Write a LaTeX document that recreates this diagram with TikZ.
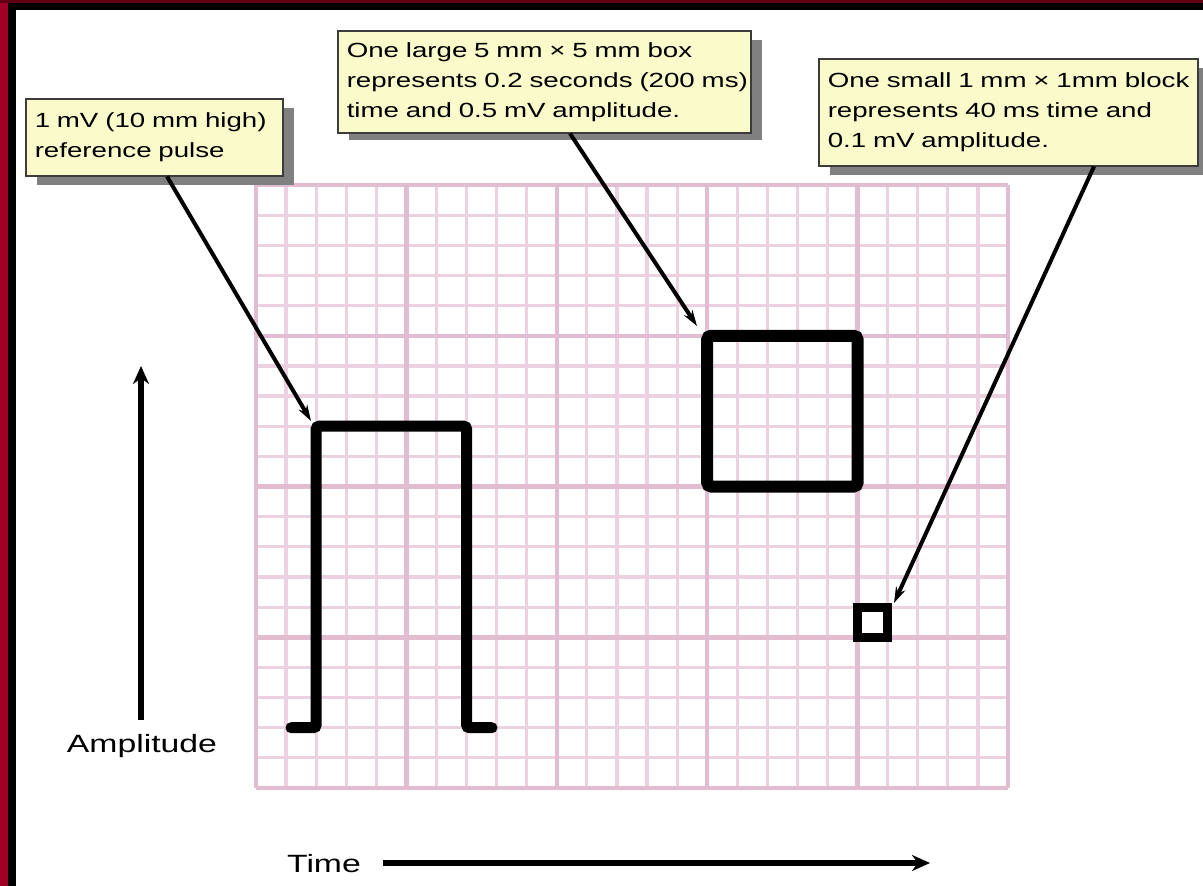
\documentclass[tikz,border=0pt]{standalone}
\usepackage{fontspec}
\setmainfont{Liberation Sans}[FakeStretch=1.35]
\usetikzlibrary{arrows.meta}
\definecolor{gridthin}{RGB}{236,210,225}
\definecolor{gridthick}{RGB}{226,188,208}
\definecolor{calloutfill}{RGB}{250,250,202}
\definecolor{calloutdraw}{RGB}{60,60,60}
\definecolor{shadowgray}{RGB}{128,128,128}
\definecolor{frameRed}{RGB}{160,0,36}
\definecolor{frameMaroon}{RGB}{98,0,22}
\tikzset{
  callout/.style={draw=calloutdraw, line width=1.5pt, fill=calloutfill, anchor=north west,
    inner xsep=9pt, inner ysep=0pt, align=left, font=\fontsize{20.5}{30}\selectfont},
  shadowbox/.style={fill=shadowgray, draw=none},
  leader/.style={line width=4pt, -{Stealth[length=16pt,width=10pt]}},
  axisarrow/.style={line width=5.5pt, -{Stealth[length=18pt,width=16pt]}},
  axislabel/.style={font=\fontsize{25}{30}\selectfont, inner sep=0pt},
  trace/.style={line width=11pt, rounded corners=3pt, line cap=round},
}
\begin{document}
\begin{tikzpicture}[x=1pt,y=-1pt]
\useasboundingbox (0,0) rectangle (1203,886);
\fill[white] (0,0) rectangle (1203,886);
% frame
\fill[black] (0,0) rectangle (16,886);
\fill[black] (0,0) rectangle (1203,10);
\fill[frameRed] (0,0) rectangle (8,886);
\fill[frameMaroon] (0,0) rectangle (1203,3);
% grid
\foreach \i in {0,...,25} {
  \pgfmathsetmacro{\xx}{256+\i*30.08}
  \draw[gridthin, line width=3.2pt] (\xx,185) -- (\xx,788);
}
\foreach \j in {0,...,20} {
  \pgfmathsetmacro{\yy}{185+\j*30.15}
  \draw[gridthin, line width=3.2pt] (256,\yy) -- (1008,\yy);
}
\foreach \i in {0,...,5} {
  \pgfmathsetmacro{\xx}{256+\i*150.4}
  \draw[gridthick, line width=4.5pt] (\xx,185) -- (\xx,788);
}
\foreach \j in {0,...,4} {
  \pgfmathsetmacro{\yy}{185+\j*150.75}
  \draw[gridthick, line width=4.5pt] (256,\yy) -- (1008,\yy);
}
% reference pulse
\draw[trace] (291,727.7) -- (316.2,727.7) -- (316.2,426.2) -- (466.6,426.2) -- (466.6,727.7) -- (492,727.7);
% large box
\draw[line width=12pt, rounded corners=4pt] (707.2,335.75) rectangle (857.6,486.5);
% small box
\draw[line width=9pt] (857.6,607) rectangle (887.7,637.3);
% callout shadows
\fill[shadowgray] (37,108) rectangle (294,185);
\fill[shadowgray] (349,40) rectangle (762,140);
\fill[shadowgray] (830,68) rectangle (1209,175);
% callouts
\node[callout, minimum width=257pt, minimum height=77pt, text width=239pt] (b1) at (25,98)
  {\mbox{1 mV (10 mm high)}\\\mbox{reference pulse}};
\node[callout, minimum width=413pt, minimum height=102pt, text width=395pt] (b2) at (337,30)
  {\mbox{One large 5 mm × 5 mm box}\\\mbox{represents 0.2 seconds (200 ms)}\\\mbox{time and 0.5 mV amplitude.}};
\node[callout, minimum width=379pt, minimum height=107pt, text width=361pt] (b3) at (818,58)
  {\mbox{One small 1 mm × 1mm block}\\\mbox{represents 40 ms time and}\\\mbox{0.1 mV amplitude.}};
% leader tips
\coordinate (tip1) at (311,421);
\coordinate (tip2) at (697,326);
\coordinate (tip3) at (894,603);
\draw[leader] ([xshift=142pt]b1.south west) -- (tip1);
\draw[leader] ([xshift=233pt]b2.south west) -- (tip2);
\draw[leader] ([xshift=276pt]b3.south west) -- (tip3);
% axes
\node[axislabel] (amp) at (142,746) {Amplitude};
\coordinate (ampTop) at (141,366);
\draw[axisarrow] ([yshift=14pt]amp.north -| ampTop) -- (ampTop);
\node[axislabel] (time) at (324,864) {Time};
\coordinate (timeEnd) at (930,863);
\draw[axisarrow] ([xshift=22pt]time.east |- timeEnd) -- (timeEnd);
\end{tikzpicture}
\end{document}
